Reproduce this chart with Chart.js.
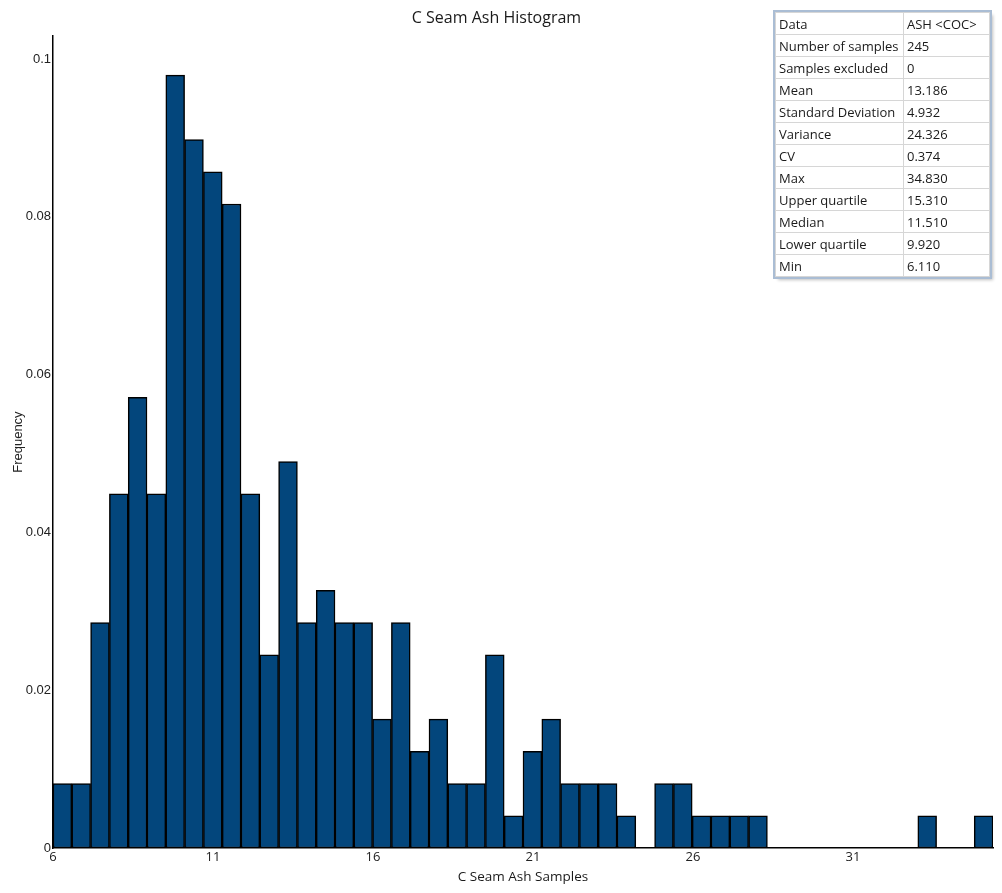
<!DOCTYPE html>
<html>
<head>
<meta charset="utf-8">
<title>C Seam Ash Histogram</title>
<script src="https://cdn.jsdelivr.net/npm/chart.js@4.4.0/dist/chart.umd.min.js"></script>
<style>
    html, body { margin: 0; padding: 0; background: #fff; }
    #wrap { position: relative; width: 1002px; height: 893px; }
    #stats {
        position: absolute;
        left: 775px;
        top: 12px;
        width: 215px;
        border-collapse: collapse;
        font-family: "Open Sans", sans-serif;
        font-size: 13px;
        color: #1a1a1a;
        background: #fff;
        outline: 2px solid #aabdd4;
        box-shadow: 3px 3px 3px rgba(0, 0, 0, 0.25);
    }
    #stats td {
        height: 21px;
        padding: 0 0 0 3px;
        border: 1px solid #d6d6d6;
        white-space: nowrap;
        line-height: 20px;
    }
    #stats td:first-child { width: 124px; }
</style>
</head>
<body>
<div id="wrap">
    <canvas id="histogram" width="1002" height="893"></canvas>
    <table id="stats"></table>
</div>
<script>
// Histogram bins (50 equal bins starting at 6)
const binStart = 6;
const binWidth = 0.5875;
const binCount = 50;

// Relative frequency of each bin (count / 245), null = empty bin
const frequencies = [
    0.00816, 0.00816, 0.02857, 0.04490, 0.05714, 0.04490, 0.09796, 0.08980, 0.08571, 0.08163,
    0.04490, 0.02449, 0.04898, 0.02857, 0.03265, 0.02857, 0.02857, 0.01633, 0.02857, 0.01224,
    0.01633, 0.00816, 0.00816, 0.02449, 0.00408, 0.01224, 0.01633, 0.00816, 0.00816, 0.00816,
    0.00408, null, 0.00816, 0.00816, 0.00408, 0.00408, 0.00408, 0.00408, null, null,
    null, null, null, null, null, null, 0.00408, null, null, 0.00408
];

// Axis ticks
const xTicks = [6, 11, 16, 21, 26, 31];
const yTicks = [0, 0.02, 0.04, 0.06, 0.08, 0.1];
const yTickLabels = ["0", "0.02", "0.04", "0.06", "0.08", "0.1"];

// Summary statistics table
const statNames = ["Data", "Number of samples", "Samples excluded", "Mean", "Standard Deviation",
    "Variance", "CV", "Max", "Upper quartile", "Median", "Lower quartile", "Min"];
const statValues = ["ASH <COC>", "245", "0", "13.186", "4.932",
    "24.326", "0.374", "34.830", "15.310", "11.510", "9.920", "6.110"];

// Build the stats table
const table = document.getElementById("stats");
statNames.forEach((name, i) => {
    const row = table.insertRow();
    row.insertCell().textContent = name;
    row.insertCell().textContent = statValues[i];
});

// Bin centres for the linear x axis
const binCentres = [];
for (let i = 0; i < binCount; i++) {
    binCentres.push(binStart + binWidth * (i + 0.5));
}

const points = frequencies.map((f, i) => ({ x: binCentres[i], y: f }));

const ctx = document.getElementById("histogram").getContext("2d");

new Chart(ctx, {
    type: "bar",
    data: {
        datasets: [
            {
                label: "Frequency",
                data: points,
                backgroundColor: "#03467c",
                borderColor: "#000000",
                borderWidth: 1.5,
                borderSkipped: false,
                barPercentage: 1,
                categoryPercentage: 1,
            },
        ],
    },
    options: {
        responsive: false,
        animation: false,
        layout: { padding: { top: 0, right: 9, bottom: 0, left: 0 } },
        plugins: {
            legend: { display: false },
            tooltip: { enabled: false },
            title: {
                display: true,
                text: "C Seam Ash Histogram",
                color: "#1a1a1a",
                font: { family: "Open Sans", size: 16, weight: "normal" },
                padding: { top: 9, bottom: 8 },
            },
        },
        scales: {
            x: {
                type: "linear",
                offset: false,
                min: binStart,
                max: binStart + binWidth * binCount,
                grid: { display: false, drawTicks: false, offset: false },
                border: { display: true, color: "#000", width: 1.5 },
                afterBuildTicks: (scale) => {
                    scale.ticks = xTicks.map((v) => ({ value: v }));
                },
                afterFit: (scale) => {
                    scale.height = 45;
                },
                ticks: {
                    color: "#222",
                    padding: 1,
                    maxRotation: 0,
                    font: { family: "Open Sans", size: 13 },
                    callback: (v) => String(v),
                },
                title: {
                    display: true,
                    text: "C Seam Ash Samples",
                    color: "#1a1a1a",
                    font: { family: "Open Sans", size: 13.5 },
                    padding: { top: 0, bottom: 8 },
                },
            },
            y: {
                min: 0,
                max: 0.1029,
                grid: { display: false, drawTicks: false },
                border: { display: true, color: "#000", width: 1.5 },
                afterBuildTicks: (scale) => {
                    scale.ticks = yTicks.map((v) => ({ value: v }));
                },
                afterFit: (scale) => {
                    scale.width = 53;
                },
                ticks: {
                    color: "#222",
                    padding: 2,
                    font: { family: "Liberation Sans", size: 13 },
                    callback: (v) => yTickLabels[yTicks.indexOf(v)],
                },
                title: {
                    display: true,
                    text: "Frequency",
                    color: "#222",
                    font: { family: "Liberation Sans", size: 13 },
                    padding: { top: 11, bottom: 0 },
                },
            },
        },
    },
});
</script>
</body>
</html>
